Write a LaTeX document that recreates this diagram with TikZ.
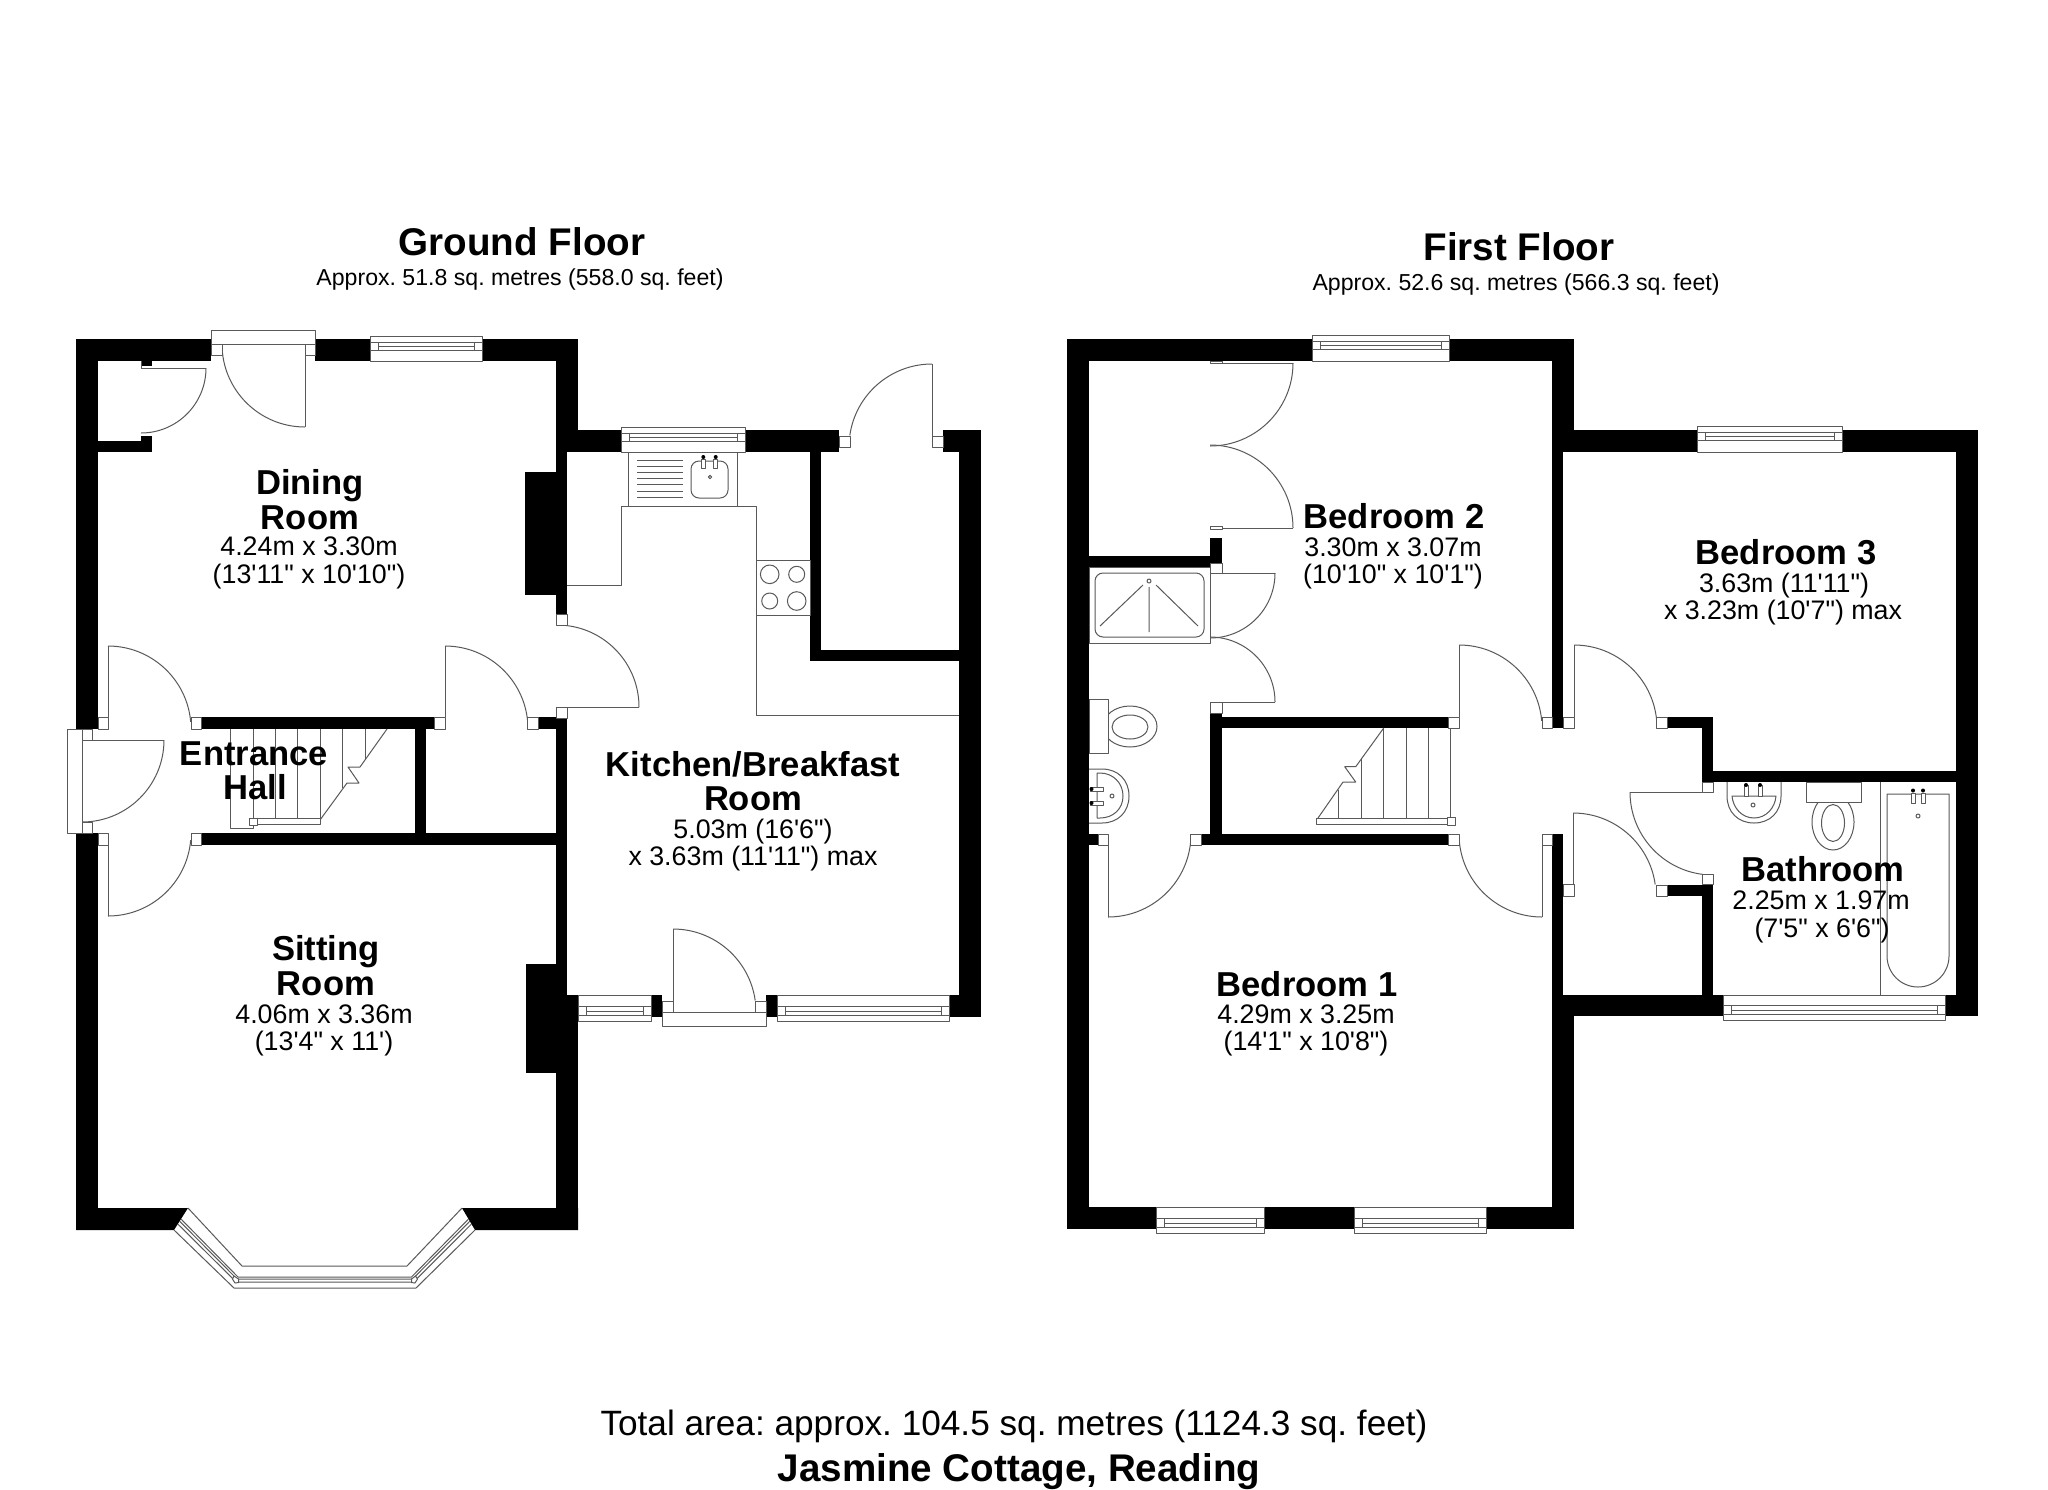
\documentclass[tikz,border=0pt]{standalone}
\usepackage{fontspec}
\newfontfamily\lib{Liberation Sans}
\frenchspacing
\tikzset{
  fix/.style={draw=black!65,line width=0.5pt,line join=round},
  pane/.style={fix,fill=white},
  inkdot/.style={fill=black},
  floortitle/.style={font=\lib\bfseries\fontsize{19.3}{22}\selectfont\frenchspacing,anchor=base,inner sep=0pt,text=black},
  floorsub/.style={font=\lib\fontsize{11.55}{14}\selectfont\frenchspacing,anchor=base,inner sep=0pt,text=black},
  roomname/.style={font=\lib\bfseries\fontsize{17.3}{20}\selectfont\frenchspacing,anchor=base,inner sep=0pt,text=black},
  roomdim/.style={font=\lib\fontsize{13.4}{16}\selectfont\frenchspacing,anchor=base,inner sep=0pt,text=black},
  totalline/.style={font=\lib\fontsize{17.6}{20}\selectfont\frenchspacing,anchor=base,inner sep=0pt,text=black},
  nameline/.style={font=\lib\bfseries\fontsize{19.3}{22}\selectfont\frenchspacing,anchor=base,inner sep=0pt,text=black},
}
% wall rectangle, jamb square
\newcommand{\wl}[4]{\fill[black] (#1,#2) rectangle (#3,#4);}
\newcommand{\jb}[4]{\draw[pane] (#1,#2) rectangle (#3,#4);}
% door swing: centre x,y, radius, start and end angle (y runs downward)
\newcommand{\swing}[5]{\draw[fix] ({#1+#3*cos(#4)},{#2+#3*sin(#4)}) arc[start angle=#4,end angle=#5,radius=#3];}
\newcommand{\sg}[4]{\draw[fix] (#1,#2) -- (#3,#4);}
% window seen from the top side: x1,x2,y of box top,y of box bottom
\newcommand{\wintop}[4]{%
  \draw[pane] (#1,#3) rectangle (#2,#4);
  \draw[fix] (#1,#3+6) -- (#2,#3+6) (#1,#3+14) -- (#2,#3+14);
  \draw[fix] (#1+8,#3+6) rectangle (#2-8,#3+14);
  \draw[fix] (#1+8,#3+10) -- (#2-8,#3+10);}
% window on a lower wall: x1,x2,y of box top,y of box bottom
\newcommand{\winbot}[4]{%
  \draw[pane] (#1,#3) rectangle (#2,#4);
  \draw[fix] (#1,#4-15) -- (#2,#4-15) (#1,#4-6) -- (#2,#4-6);
  \draw[fix] (#1+8,#4-15) rectangle (#2-8,#4-6);
  \draw[fix] (#1+8,#4-10) -- (#2-8,#4-10);}
\begin{document}
\begin{tikzpicture}[x=0.5pt,y=-0.5pt]
\useasboundingbox (0,0) rectangle (2048,1489);
\fill[white] (0,0) rectangle (2048,1489);

%%%%%%%%%%%% GROUND FLOOR
% door leaves and swings first
\swing{305}{344}{83}{180}{90}  \sg{305}{344}{305}{427}
\swing{141}{368}{65}{0}{90}    \sg{141}{368}{206}{368}
\swing{82}{740}{82}{0}{90}     \sg{92}{740}{164}{740}
\swing{108}{729}{83}{270}{355} \sg{108}{646}{108}{717}
\swing{445}{729}{83}{270}{355} \sg{445}{646}{445}{717}
\swing{557}{707}{82}{0}{-85}   \sg{567}{707}{639}{707}
\swing{108}{833}{83}{90}{5}    \sg{108}{845}{108}{916}
\swing{932}{447}{83}{270}{188} \sg{932}{364}{932}{436}
\swing{673}{1012}{83}{270}{352} \sg{673}{929}{673}{1012}

% walls
\wl{76}{339}{98}{729}
\wl{76}{833}{98}{1230}
\wl{76}{339}{211}{361}
\wl{315}{339}{370}{361}
\wl{482}{339}{578}{361}
\wl{556}{339}{578}{452}
\wl{556}{452}{567}{614}
\wl{525}{472}{567}{595}
\wl{578}{430}{621}{452}
\wl{745}{430}{839}{452}
\wl{943}{430}{981}{452}
\wl{810}{452}{821}{661}
\wl{821}{650}{959}{661}
\wl{959}{430}{981}{1017}
\wl{949}{995}{981}{1017}
\wl{766}{995}{777}{1017}
\wl{651}{995}{662}{1017}
\wl{556}{718}{567}{995}
\wl{556}{995}{578}{1230}
\wl{526}{964}{556}{1073}
\wl{141}{361}{152}{366}
\wl{98}{441}{152}{452}
\wl{141}{436}{152}{452}
\wl{201}{717}{434}{729}
\wl{538}{717}{567}{729}
\wl{201}{833}{567}{845}
\wl{415}{729}{426}{833}
\fill[black] (76,1208) -- (188,1208) -- (174,1230) -- (76,1230) -- cycle;
\fill[black] (462,1208) -- (578,1208) -- (578,1230) -- (475,1230) -- cycle;

% door jambs and thresholds
\jb{211}{344}{222}{355} \jb{305}{344}{315}{355}
\jb{211}{330}{315}{344}
\jb{67}{729}{82}{833}
\jb{82}{729}{92}{740}   \jb{82}{822}{92}{833}
\jb{98}{717}{108}{729}  \jb{191}{717}{201}{729}
\jb{434}{717}{445}{729} \jb{527}{717}{538}{729}
\jb{556}{614}{567}{625} \jb{556}{707}{567}{718}
\jb{98}{833}{108}{845}  \jb{191}{833}{201}{845}
\jb{839}{436}{850}{447} \jb{932}{436}{943}{447}
\jb{662}{1001}{673}{1012} \jb{755}{1001}{766}{1012}
\jb{662}{1012}{766}{1026}
\sg{141}{361}{141}{368}

% windows
\wintop{370}{482}{336}{361}
\wintop{621}{745}{427}{452}
\winbot{578}{651}{995}{1021}
\winbot{777}{949}{995}{1021}

% bay window
\draw[fix] (188,1208) -- (242,1266) -- (407,1266) -- (462,1208);
\draw[fix] (174,1230) -- (234,1288) -- (416,1288) -- (475,1230);
\draw[fix] (181,1219) -- (238,1277) -- (411.5,1277) -- (468.5,1219);
\draw[fix] (179.6,1221.2) -- (237.2,1279.2) -- (412.4,1279.2) -- (469.8,1221.2);
\draw[fix] (177.8,1224) -- (236.2,1282) -- (413.6,1282) -- (471.5,1224);
\draw[pane] (234,1276) -- (238.5,1279) -- (238.5,1282.5) -- (235,1283) -- (232.5,1279) -- cycle;
\draw[pane] (415.5,1276) -- (411.5,1279) -- (411.5,1282.5) -- (415,1283) -- (417.5,1279) -- cycle;

% ground floor stairs
\draw[fix] (230.7,729) -- (230.7,828) -- (253.3,828) -- (253.3,729);
\sg{275.7}{729}{275.7}{818}
\sg{297.7}{729}{297.7}{818}
\sg{320.3}{729}{320.3}{818}
\sg{342.7}{729}{342.7}{788}
\sg{365}{729}{365}{759}
\draw[fix] (387,729) -- (360,767) -- (348,767) -- (359,783) -- (347,783) -- (320,820);
\draw[pane] (257,818) rectangle (320,824);
\draw[pane] (249,818) rectangle (257,825);

% kitchen fittings
\draw[fix] (567,585) -- (621,585) -- (621,506) -- (756,506) -- (756,715) -- (959,715);
\draw[fix] (628,452) rectangle (737,506);
\foreach \yy in {460.7,466.3,472.3,478.3,484.7,491,497.3} {\draw[fix] (637,\yy) -- (683,\yy);}
\draw[fix,rounded corners=4pt] (691,461) rectangle (728,498);
\draw[fix] (710,477) circle[radius=1.7];
\draw[pane] (701.3,459) rectangle (705.3,468);
\draw[pane] (713.7,459) rectangle (717.7,468);
\fill[inkdot] (703.3,457) circle[radius=2];
\fill[inkdot] (715.7,457) circle[radius=2];
\draw[fix] (756,560) rectangle (810,615);
\draw[fix] (769.7,574.3) circle[radius=9.3];
\draw[fix] (796.7,574.3) circle[radius=8];
\draw[fix] (769.7,601) circle[radius=8];
\draw[fix] (796.7,601) circle[radius=9.3];

%%%%%%%%%%%% FIRST FLOOR
% door leaves and swings
\swing{1210}{363}{83}{0}{90}    \sg{1222}{363}{1293}{363}
\swing{1210}{528}{83}{270}{360} \sg{1222}{528}{1293}{528}
\swing{1210}{573}{65}{0}{90}    \sg{1222}{573}{1275}{573}
\swing{1210}{702}{65}{270}{360} \sg{1222}{702}{1275}{702}
\swing{1459}{728}{83}{270}{355} \sg{1459}{645}{1459}{717}
\swing{1574}{728}{83}{270}{355} \sg{1574}{645}{1574}{717}
\swing{1542}{834}{83}{90}{175}  \sg{1542}{845}{1542}{917}
\swing{1108}{834}{83}{90}{5}    \sg{1108}{845}{1108}{917}
\swing{1713}{792}{83}{180}{97}  \sg{1630}{792}{1702}{792}
\swing{1573}{896}{83}{270}{352} \sg{1573}{813}{1573}{884}

% walls
\wl{1067}{339}{1089}{1229}
\wl{1067}{339}{1312}{361}
\wl{1449}{339}{1574}{361}
\wl{1552}{339}{1574}{452}
\wl{1574}{430}{1697}{452}
\wl{1842}{430}{1978}{452}
\wl{1956}{430}{1978}{1016}
\wl{1552}{452}{1563}{728}
\wl{1089}{556}{1222}{567}
\wl{1210}{538}{1222}{567}
\wl{1210}{713}{1222}{845}
\wl{1222}{717}{1448}{728}
\wl{1201}{834}{1448}{845}
\wl{1089}{834}{1098}{845}
\wl{1667}{717}{1713}{728}
\wl{1702}{717}{1713}{782}
\wl{1702}{771}{1956}{782}
\wl{1667}{885}{1713}{896}
\wl{1702}{885}{1713}{995}
\wl{1552}{834}{1563}{1229}
\wl{1552}{1000}{1574}{1229}
\wl{1563}{995}{1723}{1016}
\wl{1945}{995}{1978}{1016}
\wl{1067}{1207}{1156}{1229}
\wl{1264}{1207}{1354}{1229}
\wl{1486}{1207}{1574}{1229}

% jambs
\jb{1210}{361}{1222}{363.5}
\jb{1210}{526}{1222}{529.5}
\jb{1210}{563}{1222}{573}
\jb{1210}{702}{1222}{713}
\jb{1448}{717}{1459}{728} \jb{1542}{717}{1552}{728}
\jb{1563}{717}{1574}{728} \jb{1656}{717}{1667}{728}
\jb{1702}{782}{1713}{792} \jb{1702}{874}{1713}{884}
\jb{1563}{884}{1574}{896} \jb{1656}{885}{1667}{896}
\jb{1448}{834}{1459}{845} \jb{1542}{834}{1552}{845}
\jb{1190}{834}{1201}{845} \jb{1098}{834}{1108}{845}

% windows
\wintop{1312}{1449}{335}{361}
\wintop{1697}{1842}{426}{452}
\winbot{1723}{1945}{995}{1020}
\winbot{1156}{1264}{1207}{1233}
\winbot{1354}{1486}{1207}{1233}

% stairs
\sg{1338.7}{790}{1338.7}{818}
\sg{1361.3}{759}{1361.3}{818}
\sg{1383.7}{728}{1383.7}{818}
\sg{1406}{728}{1406}{818}
\sg{1428.3}{728}{1428.3}{818}
\sg{1450.7}{728}{1450.7}{818}
\draw[fix] (1383.7,728) -- (1355.7,766.7) -- (1344.7,766.7) -- (1355.7,782) -- (1343,782) -- (1318,818);
\draw[pane] (1316,818) rectangle (1447,824);
\draw[pane] (1447,817) rectangle (1455,825);

% shower
\draw[fix] (1089,567) rectangle (1210,643);
\draw[fix,rounded corners=4pt] (1095,573) rectangle (1204,637);
\draw[fix] (1149,581) circle[radius=2];
\draw[fix] (1143,585) -- (1100,626) (1149,587) -- (1149,632) (1156,585) -- (1198,626);

% en-suite toilet and basin
\draw[fix] (1130,726.5) ellipse[x radius=27,y radius=20.5];
\draw[fix] (1130,727) ellipse[x radius=18,y radius=12];
\draw[pane] (1089,699) rectangle (1108,753);
\draw[fix] (1089,769) -- (1102,769) .. controls (1118,769) and (1129,780) .. (1129,796) .. controls (1129,812) and (1118,823) .. (1102,823) -- (1089,823);
\draw[fix] (1097,773) -- (1100,773) .. controls (1113,773) and (1123,783) .. (1123,796) .. controls (1123,809) and (1113,818) .. (1100,818) -- (1097,818) -- cycle;
\draw[pane] (1090,787) rectangle (1103,791);
\draw[pane] (1090,801) rectangle (1103,805);
\fill[inkdot] (1091.5,789) circle[radius=2];
\fill[inkdot] (1091.5,803) circle[radius=2];
\draw[fix] (1112,796) circle[radius=2];

% bathroom
\sg{1880}{782}{1880}{995}
\draw[fix] (1727,782) -- (1727,796) .. controls (1727,812) and (1738,823) .. (1754,823) .. controls (1770,823) and (1781,812) .. (1781,796) -- (1781,782);
\draw[fix] (1732,796) .. controls (1733,808) and (1742,818) .. (1754,818) .. controls (1766,818) and (1775,808) .. (1776,796) -- cycle;
\draw[pane] (1744,785) rectangle (1748,796);
\draw[pane] (1758,785) rectangle (1762,796);
\fill[inkdot] (1746,785) circle[radius=2];
\fill[inkdot] (1760,785) circle[radius=2];
\draw[fix] (1753,805) circle[radius=2];
\draw[fix] (1833,822) ellipse[x radius=21,y radius=28];
\draw[fix] (1833,823) ellipse[x radius=11.5,y radius=18.5];
\draw[pane] (1806,782) rectangle (1861,802);
\draw[fix] (1887,794) -- (1949,794) -- (1949,956) arc[start angle=0,end angle=180,radius=31] -- cycle;
\draw[pane] (1911,793) rectangle (1915,803);
\draw[pane] (1921,793) rectangle (1925,803);
\fill[inkdot] (1913,790.5) circle[radius=2];
\fill[inkdot] (1923,790.5) circle[radius=2];
\draw[fix] (1918,816) circle[radius=2];

%%%%%%%%%%%% TEXT
\node[floortitle] (gftitle) at (522,255) {Ground Floor};
\node[floorsub] (gfsub) at (520,285) {Approx. 51.8 sq. metres (558.0 sq. feet)};
\node[floortitle] (fftitle) at (1519,260) {First Floor};
\node[floorsub] (ffsub) at (1516,290.5) {Approx. 52.6 sq. metres (566.3 sq. feet)};

\node[roomname] (din1) at (310,494) {Dining};
\node[roomname] (din2) at (310,529) {Room};
\node[roomdim] (din3) at (309,555.5) {4.24m x 3.30m};
\node[roomdim] (din4) at (309,583.5) {(13'11" x 10'10")};

\node[roomname] (ent1) at (254,765) {Entrance};
\node[roomname] (ent2) at (255,799) {Hall};

\node[roomname] (sit1) at (326,960) {Sitting};
\node[roomname] (sit2) at (326,995) {Room};
\node[roomdim] (sit3) at (324,1023) {4.06m x 3.36m};
\node[roomdim] (sit4) at (324,1050) {(13'4" x 11')};

\node[roomname] (kit1) at (753,776) {Kitchen/Breakfast};
\node[roomname] (kit2) at (753,810) {Room};
\node[roomdim] (kit3) at (753,838) {5.03m (16'6")};
\node[roomdim] (kit4) at (753,865) {x 3.63m (11'11") max};

\node[roomname] (bdt1) at (1394,528) {Bedroom 2};
\node[roomdim] (bdt2) at (1393,556) {3.30m x 3.07m};
\node[roomdim] (bdt3) at (1393,583) {(10'10" x 10'1")};

\node[roomname] (bdh1) at (1786,564) {Bedroom 3};
\node[roomdim] (bdh2) at (1784,592) {3.63m (11'11")};
\node[roomdim] (bdh3) at (1783,619) {x 3.23m (10'7") max};

\node[roomname] (bdo1) at (1307,996) {Bedroom 1};
\node[roomdim] (bdo2) at (1306,1023.5) {4.29m x 3.25m};
\node[roomdim] (bdo3) at (1306,1050.5) {(14'1" x 10'8")};

\node[roomname] (bth1) at (1823,881) {Bathroom};
\node[roomdim] (bth2) at (1821,909) {2.25m x 1.97m};
\node[roomdim] (bth3) at (1822,937) {(7'5" x 6'6")};

\node[totalline] (total) at (1014,1435) {Total area: approx. 104.5 sq. metres (1124.3 sq. feet)};
\node[nameline] (house) at (1019,1481) {Jasmine Cottage, Reading};
\end{tikzpicture}
\end{document}
